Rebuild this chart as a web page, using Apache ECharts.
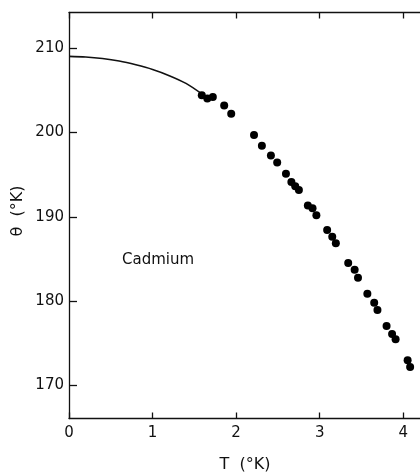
<!DOCTYPE html>
<html>
<head>
<meta charset="utf-8">
<script src="https://cdn.jsdelivr.net/npm/echarts@6/dist/echarts.min.js"></script>
<style>
  html, body { margin: 0; padding: 0; background: #fff; }
  #chart { width: 420px; height: 473px; }
</style>
</head>
<body>
<div id="chart"></div>
<script>
// Debye temperature of cadmium versus temperature
const curveT     = [0, 0.2, 0.4, 0.6, 0.8, 1.0, 1.2, 1.4, 1.59];
const curveTheta = [209.0, 208.93, 208.75, 208.45, 208.0, 207.45, 206.72, 205.8, 204.55];

const pointT = [1.589, 1.655, 1.721, 1.857, 1.941, 2.214, 2.308, 2.416, 2.491, 2.596,
                2.661, 2.707, 2.751, 2.858, 2.914, 2.960, 3.089, 3.150, 3.193, 3.341,
                3.418, 3.458, 3.570, 3.652, 3.691, 3.800, 3.866, 3.908, 4.052, 4.082];
const pointTheta = [204.40, 204.01, 204.20, 203.18, 202.19, 199.70, 198.40, 197.27, 196.44, 195.09,
                    194.11, 193.63, 193.16, 191.33, 191.00, 190.18, 188.43, 187.63, 186.85, 184.52,
                    183.73, 182.78, 180.89, 179.82, 178.96, 177.07, 176.12, 175.49, 173.00, 172.20];

const xTicks = [0, 1, 2, 3, 4];
const yTicks = [170, 180, 190, 200, 210];

const curveData = curveT.map((t, i) => [t, curveTheta[i]]);
const pointData = pointT.map((t, i) => [t, pointTheta[i]]);

const ink = '#111';
const font = 'DejaVu Sans';

const chart = echarts.init(document.getElementById('chart'), null, { renderer: 'canvas' });
chart.setOption({
  animation: false,
  backgroundColor: '#fff',
  grid: { left: 69, top: 12.5, width: 360, height: 406 },
  xAxis: [
    {
      type: 'value', position: 'bottom', min: 0, max: 4.2,
      axisLine: { show: true, lineStyle: { color: ink, width: 1.3 } },
      axisTick: { show: true, inside: true, length: 6, customValues: xTicks, lineStyle: { color: ink, width: 1.3 } },
      axisLabel: { customValues: xTicks, color: ink, fontFamily: font, fontSize: 15, margin: 7 },
      splitLine: { show: false }
    },
    {
      type: 'value', position: 'top', min: 0, max: 4.2,
      axisLine: { show: true, lineStyle: { color: ink, width: 1.3 } },
      axisTick: { show: true, inside: true, length: 6, customValues: xTicks, lineStyle: { color: ink, width: 1.3 } },
      axisLabel: { show: false },
      splitLine: { show: false }
    }
  ],
  yAxis: [
    {
      type: 'value', position: 'left', min: 166.1, max: 214.2,
      axisLine: { show: true, lineStyle: { color: ink, width: 1.3 } },
      axisTick: { show: true, inside: true, length: 8, customValues: yTicks, lineStyle: { color: ink, width: 1.3 } },
      axisLabel: { customValues: yTicks, color: ink, fontFamily: font, fontSize: 15, margin: 5 },
      splitLine: { show: false }
    }
  ],
  series: [
    {
      type: 'line', data: curveData, smooth: 0.3, showSymbol: false,
      lineStyle: { color: ink, width: 1.6 }, z: 2
    },
    {
      type: 'scatter', data: pointData, symbol: 'circle', symbolSize: 8,
      itemStyle: { color: '#000', opacity: 1 }, z: 3
    }
  ],
  graphic: [
    {
      type: 'text', left: 122, top: 253,
      style: { text: 'Cadmium', fill: ink, font: '15px "DejaVu Sans"' }
    },
    {
      type: 'text', x: 245, y: 465,
      style: { text: 'T  (°K)', fill: ink, font: '16px "DejaVu Sans"', align: 'center', verticalAlign: 'middle' }
    },
    {
      type: 'text', x: 18, y: 211, rotation: Math.PI / 2,
      style: { text: 'θ  (°K)', fill: ink, font: '16px "DejaVu Sans"', align: 'center', verticalAlign: 'middle' }
    }
  ]
});
</script>
</body>
</html>
